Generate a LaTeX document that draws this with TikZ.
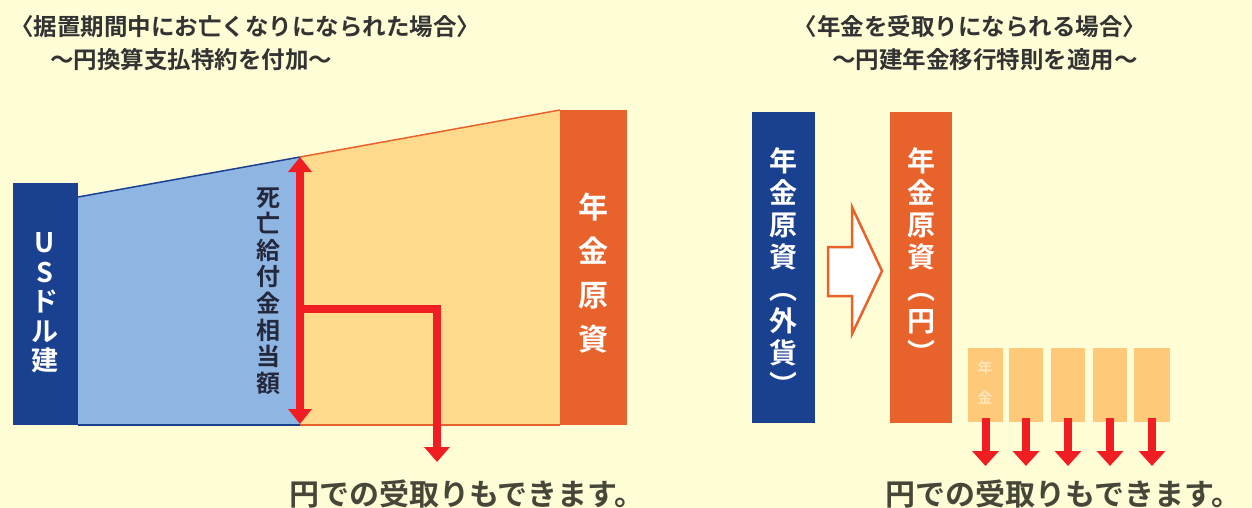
\documentclass[tikz,border=0pt]{standalone}
\usepackage{fontspec}
\usetikzlibrary{arrows.meta}
\newfontfamily\jp{Noto Sans CJK JP}[BoldFont={Noto Sans CJK JP Bold}]
\definecolor{bgc}{HTML}{FFFDD6}
\definecolor{dblue}{HTML}{1A4090}
\definecolor{lblue}{HTML}{8FB5E3}
\definecolor{lorange}{HTML}{FFD98C}
\definecolor{orng}{HTML}{E8632B}
\definecolor{sbar}{HTML}{FFC97A}
\definecolor{redc}{HTML}{F01E23}
\definecolor{txt}{HTML}{333333}
\definecolor{btxt}{HTML}{474739}
\definecolor{navytxt}{HTML}{24283A}
\definecolor{ghost}{HTML}{FFE4B8}
\tikzset{
  title/.style={font=\jp\bfseries\fontsize{23.5}{26}\selectfont, text=txt, inner sep=0},
  bottomtxt/.style={font=\jp\bfseries\fontsize{30}{32}\selectfont, text=btxt, inner sep=0},
  vtext/.style={align=center, inner sep=0, text=white},
  redarrow/.style={draw=redc, line width=8pt, -{Triangle[width=26pt,length=15pt]}},
}
\begin{document}
\begin{tikzpicture}[x=1pt,y=-1pt]
\fill[bgc] (0,0) rectangle (1252,508);
\useasboundingbox (0,0) rectangle (1252,508);

% titles
\node[title] (t1) at (245,27) {〈据置期間中にお亡くなりになられた場合〉};
\node[title] (t2) at (191,60) {〜円換算支払特約を付加〜};
\node[title] (t3) at (970,27) {〈年金を受取りになられる場合〉};
\node[title] (t4) at (985,60) {〜円建年金移行特則を適用〜};

% ---------- left diagram ----------
\fill[lblue] (78,197) -- (300,157) -- (300,425) -- (78,425) -- cycle;
\fill[lorange] (300,157) -- (560,110) -- (560,425) -- (300,425) -- cycle;
\draw[dblue, line width=1.5pt] (78,197) -- (300,157);
\draw[orng, line width=1.5pt] (300,157) -- (560,110);
\draw[dblue, line width=1.5pt] (78,425) -- (300,425);
\draw[orng, line width=1.5pt] (300,425) -- (560,425);
\fill[dblue] (13,183) rectangle (78,425);
\fill[orng] (560,110) rectangle (627,425);

\node[vtext, font=\jp\bfseries\fontsize{27}{29.5}\selectfont] (usd) at (45,303) {U\\S\\ド\\ル\\建};
\node[vtext, font=\jp\bfseries\fontsize{30}{44}\selectfont] (gen1) at (593,273) {年\\金\\原\\資};
\node[vtext, text=navytxt, font=\jp\bfseries\fontsize{24}{26.6}\selectfont] (shibo) at (268,291) {死\\亡\\給\\付\\金\\相\\当\\額};

\coordinate (dtop) at (300,157);
\coordinate (dbot) at (300,424);
\draw[draw=redc, line width=8pt, {Triangle[width=23pt,length=15pt]}-{Triangle[width=23pt,length=15pt]}] (dtop) -- (dbot);
\coordinate (lstart) at (300,309);
\coordinate (lcorner) at (437,309);
\coordinate (lend) at (437,462);
\draw[redarrow, line join=miter, -{Triangle[width=25pt,length=15pt]}] (lstart) -- (lcorner) -- (lend);

\node[bottomtxt] (b1) at (467,494) {円での受取りもできます。};

% ---------- right diagram ----------
\fill[dblue] (752,112) rectangle (815,423);
\fill[orng] (890,112) rectangle (952,423);
\node[vtext, font=\jp\bfseries\fontsize{28}{32}\selectfont] (fx) at (783,272) {年\\金\\原\\資\\︵\\外\\貨\\︶};
\node[vtext, font=\jp\bfseries\fontsize{28}{32}\selectfont] (yen) at (921,256) {年\\金\\原\\資\\︵\\円\\︶};

\draw[orng, line width=2.5pt, fill=white, line join=miter]
  (828,247) -- (852,247) -- (852,207) -- (882,271) -- (852,334) -- (852,296) -- (828,296) -- cycle;

\foreach \i/\xa/\xb in {1/968/1003, 2/1009/1043, 3/1051/1085, 4/1093/1127, 5/1134/1170}{
  \fill[sbar] (\xa,348) rectangle (\xb,422);
  \coordinate (a\i s) at ({(\xa+\xb)/2},418);
  \coordinate (a\i e) at ({(\xa+\xb)/2},466);
  \draw[redarrow] (a\i s) -- (a\i e);
}
\node[vtext, text=ghost, font=\jp\bfseries\fontsize{15}{30}\selectfont] (ghost) at (985,383) {年\\金};

\node[bottomtxt, anchor=west] (b2) at (885,494) {円での受取りもできます。};
\end{tikzpicture}
\end{document}
